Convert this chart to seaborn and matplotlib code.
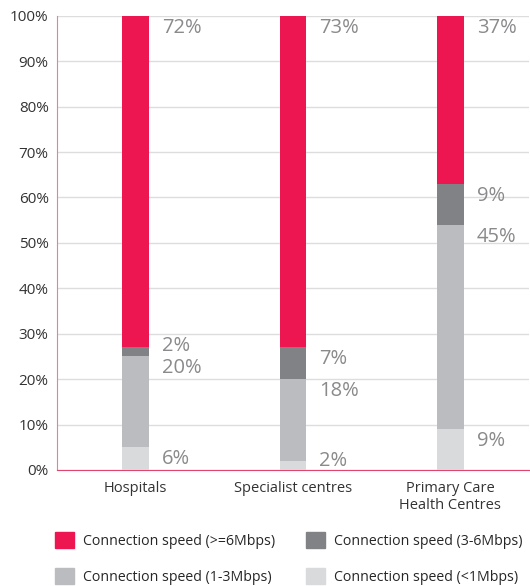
import matplotlib
matplotlib.use("Agg")
import matplotlib.pyplot as plt
import matplotlib.patches as mpatches
import numpy as np
import seaborn as sns

# data
categories = ["Hospitals", "Specialist centres", "Primary Care\nHealth Centres"]
below_1 = [5, 2, 9]
from_1_to_3 = [20, 18, 45]
from_3_to_6 = [2, 7, 9]
above_6 = [73, 73, 37]
label_below_1 = ["6%", "2%", "9%"]
label_1_to_3 = ["20%", "18%", "45%"]
label_3_to_6 = ["2%", "7%", "9%"]
label_above_6 = ["72%", "73%", "37%"]

series_names = ["Connection speed (<1Mbps)", "Connection speed (1-3Mbps)",
                "Connection speed (3-6Mbps)", "Connection speed (>=6Mbps)"]
colors = ["#d9dadc", "#bbbcc0", "#808285", "#ee1651"]

sns.set_style("white")
plt.rcParams["font.family"] = ["Open Sans", "DejaVu Sans"]

fig = plt.figure(figsize=(5.30, 5.86), dpi=100)
ax = fig.add_axes([0.1075, 0.198, 0.8905, 0.775])

series = [below_1, from_1_to_3, from_3_to_6, above_6]
labels = [label_below_1, label_1_to_3, label_3_to_6, label_above_6]
bottom = np.zeros(3)
prev_label_y = [-10.0, -10.0, -10.0]
for vals, labs, col in zip(series, labels, colors):
    vals = np.array(vals, dtype=float)
    sns.barplot(x=categories, y=vals, bottom=bottom, color=col, width=0.17,
                saturation=1, linewidth=0, ax=ax, zorder=3)
    top = bottom + vals
    for i in range(3):
        y = max(top[i] - 2.6, 2.0)
        if y - prev_label_y[i] < 4.5:
            y = prev_label_y[i] + 4.8
        prev_label_y[i] = y
        ax.text(i + 0.168, y, labs[i], color="#8a8a8d", fontsize=14.5,
                va="center", ha="left")
    bottom = top

ax.set_xlim(-0.5, 2.5)
ax.set_ylim(0, 100)
ax.set_yticks(np.arange(0, 101, 10))
ax.set_yticklabels([f"{t}%" for t in range(0, 101, 10)])
ax.yaxis.grid(True, color="#dddddd", linewidth=1, zorder=0)
ax.set_axisbelow(True)
for s in ["top", "right"]:
    ax.spines[s].set_visible(False)
ax.spines["left"].set_color("#f27a9a")
ax.spines["bottom"].set_color("#e0456e")
ax.tick_params(axis="y", length=0, labelsize=11, colors="#333333", pad=6)
ax.tick_params(axis="x", length=0, labelsize=10.5, colors="#333333", pad=8)
ax.set_xlabel("")
ax.set_ylabel("")

order = [3, 1, 2, 0]
handles = [mpatches.Patch(color=colors[k], label=series_names[k]) for k in order]
fig.legend(handles=handles, ncol=2, loc="lower left", bbox_to_anchor=(0.104, 0.002),
           frameon=False, fontsize=10.2, handlelength=1.34, handleheight=1.34,
           columnspacing=2.2, labelspacing=1.35, handletextpad=0.63,
           borderpad=0, borderaxespad=0)

fig.savefig("out.png", dpi=100)
